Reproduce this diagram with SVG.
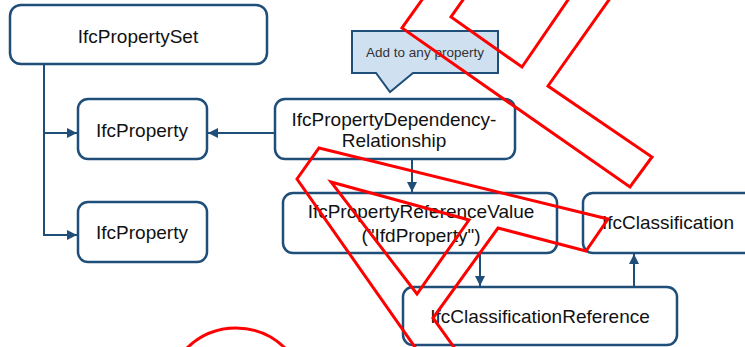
<svg xmlns="http://www.w3.org/2000/svg" width="745" height="347" viewBox="0 0 745 347">
<style>
.node rect{fill:#fff;stroke:#1f4e79;stroke-width:2.5}
.node text{font-family:"Liberation Sans",Arial,sans-serif;font-size:19px;fill:#111;text-anchor:middle}
.conn{stroke:#1f4e79;stroke-width:2;fill:none}
.red{stroke:#ff0000;stroke-width:3;fill:none;stroke-linejoin:miter}
</style>
<defs>
<marker id="arr" viewBox="0 0 10 10" refX="10" refY="5" markerWidth="10" markerHeight="10" markerUnits="userSpaceOnUse" orient="auto">
<path d="M0,0 L10,5 L0,10 z" fill="#1f4e79"/>
</marker>
</defs>
<rect width="745" height="347" fill="#fff"/>
<g id="connectors">
<path class="conn" d="M44,64 V235 H77" marker-end="url(#arr)"/>
<path class="conn" d="M44,133 H77" marker-end="url(#arr)"/>
<path class="conn" d="M275,133 H208" marker-end="url(#arr)"/>
<path class="conn" d="M412,159 V192" marker-end="url(#arr)"/>
<path class="conn" d="M480,253 V286" marker-end="url(#arr)"/>
<path class="conn" d="M634,287 V254" marker-end="url(#arr)"/>
</g>
<g id="n-propertyset" class="node">
<rect x="10" y="5" width="257" height="59" rx="11"/>
<text x="138" y="43">IfcPropertySet</text>
</g>
<g id="n-property1" class="node">
<rect x="78" y="99" width="129" height="60" rx="10"/>
<text x="142" y="137">IfcProperty</text>
</g>
<g id="n-property2" class="node">
<rect x="78" y="202" width="129" height="60" rx="10"/>
<text x="142" y="239">IfcProperty</text>
</g>
<g id="n-callout">
<path d="M352,31 H498 V73 H413 L390,92 L376,73 H352 Z" fill="#cfe0f1" stroke="#1f4e79" stroke-width="2"/>
<text x="425" y="57" font-family="Liberation Sans,Arial,sans-serif" font-size="13.5" fill="#333" text-anchor="middle">Add to any property</text>
</g>
<g id="n-dependency" class="node">
<rect x="275" y="99" width="240" height="60" rx="10"/>
<text x="394" y="126">IfcPropertyDependency-</text>
<text x="394" y="147">Relationship</text>
</g>
<g id="n-refvalue" class="node">
<rect x="283" y="193" width="274" height="60" rx="10"/>
<text x="421" y="218">IfcPropertyReferenceValue</text>
<text x="421" y="242">("IfdProperty")</text>
</g>
<g id="n-classification" class="node">
<rect x="583" y="193" width="172" height="60" rx="10"/>
<text x="668" y="229">IfcClassification</text>
</g>
<g id="n-classref" class="node">
<rect x="403" y="287" width="274" height="58" rx="10"/>
<text x="540" y="323">IfcClassificationReference</text>
</g>
<g id="red-marks">
<polyline class="red" points="424,-3 402,28 630,187 652,157 548,86 611,-3"/>
<polyline class="red" points="465,-3 451,17 522,67 570,-3"/>
<polyline class="red" points="417,350 297,179 319,148 608,219 586,251 498,228 433,318 456,350"/>
<polygon class="red" points="331,182 469,220 417,294"/>
<circle class="red" cx="236" cy="398" r="70"/>
</g>
</svg>
